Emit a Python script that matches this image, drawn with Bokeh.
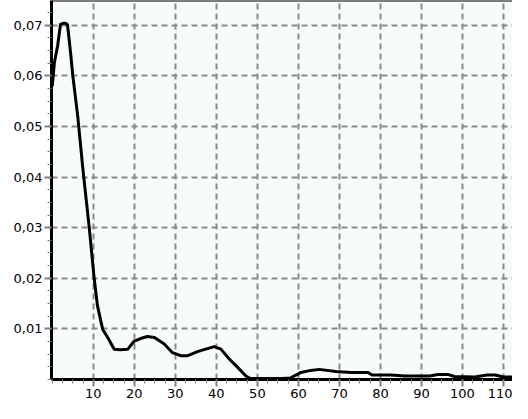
from bokeh.plotting import figure
from bokeh.models import FixedTicker, CustomJSTickFormatter, Span, Range1d
from bokeh.embed import file_html
from bokeh.resources import INLINE

# density curve
curve_x = [0, 0.5, 1.3, 2.0, 2.6, 3.2, 3.7, 4.4, 5.0, 6.2, 7.4, 8.2, 9.0, 10.2, 11.0,
           11.9, 12.3, 13.5, 15.1, 16.5, 18.4, 20.0, 21.5, 23.2, 24.9, 27.3, 29.3, 31.4,
           33.0, 35.4, 37.4, 39.5, 41.1, 43.2, 45.2, 47.2, 48.3, 52, 56, 58, 59.5, 60.6,
           63.0, 65.1, 69.1, 73.0, 76.9, 78.0, 82.5, 86.0, 92.0, 94.0, 96.4, 98.0, 103.0,
           106.0, 108.0, 110.0, 113.0, 114.0]
curve_y = [0.058, 0.0626, 0.066, 0.0702, 0.0704, 0.0704, 0.0701, 0.065, 0.060, 0.052,
           0.042, 0.036, 0.030, 0.020, 0.0146, 0.0113, 0.0099, 0.0083, 0.006, 0.0059,
           0.006, 0.0076, 0.0081, 0.0085, 0.0083, 0.007, 0.0053, 0.0047, 0.0047, 0.0055,
           0.006, 0.0065, 0.006, 0.004, 0.0024, 0.0007, 0.0002, 0.0002, 0.0002, 0.0003,
           0.0009, 0.0014, 0.0018, 0.002, 0.0016, 0.0014, 0.0014, 0.0009, 0.0009, 0.0007,
           0.0007, 0.001, 0.001, 0.0006, 0.0005, 0.0009, 0.0009, 0.0005, 0.0005, 0.0009]

x_ticks = [10, 20, 30, 40, 50, 60, 70, 80, 90, 100, 110]
y_ticks = [0.01, 0.02, 0.03, 0.04, 0.05, 0.06, 0.07]
x_minor = [i * 2.5 for i in range(0, 47)]
y_minor = [i * 0.0025 for i in range(0, 31)]

x_start, x_end = -0.2, 112.2
y_start, y_end = 0.0, 0.0749

p = figure(width=512, height=403, output_backend="svg", toolbar_location=None,
           x_range=Range1d(x_start, x_end), y_range=Range1d(y_start, y_end),
           min_border_left=51, min_border_right=0, min_border_top=0,
           min_border_bottom=24)

p.background_fill_color = "#f8fbfb"
p.border_fill_color = "#ffffff"
p.outline_line_color = None

p.line(curve_x, curve_y, line_color="black", line_width=3, line_join="round")

p.xaxis.ticker = FixedTicker(ticks=x_ticks, minor_ticks=x_minor)
p.yaxis.ticker = FixedTicker(ticks=y_ticks, minor_ticks=y_minor)
p.yaxis.formatter = CustomJSTickFormatter(code="return tick.toFixed(2).replace('.', ',');")
p.xaxis.formatter = CustomJSTickFormatter(code="return tick.toFixed(0);")

for ax in (p.xaxis, p.yaxis):
    ax.axis_line_color = "black"
    ax.axis_line_width = 3
    ax.major_tick_line_color = "#808080"
    ax.major_tick_line_width = 2
    ax.major_tick_in = 0
    ax.major_tick_out = 7
    ax.minor_tick_line_color = "#808080"
    ax.minor_tick_line_width = 1
    ax.minor_tick_in = 0
    ax.minor_tick_out = 4
    ax.major_label_text_font = "DejaVu Sans"
    ax.major_label_text_font_size = "13px"
    ax.major_label_text_color = "black"
    ax.major_label_standoff = 2

p.grid.grid_line_color = "#8a8a8a"
p.grid.grid_line_width = 2
p.grid.grid_line_dash = "6 4"

top = Span(location=y_end, dimension="width", line_color="black", line_width=2)
p.add_layout(top)

open("out.html", "w").write(file_html(p, INLINE))
